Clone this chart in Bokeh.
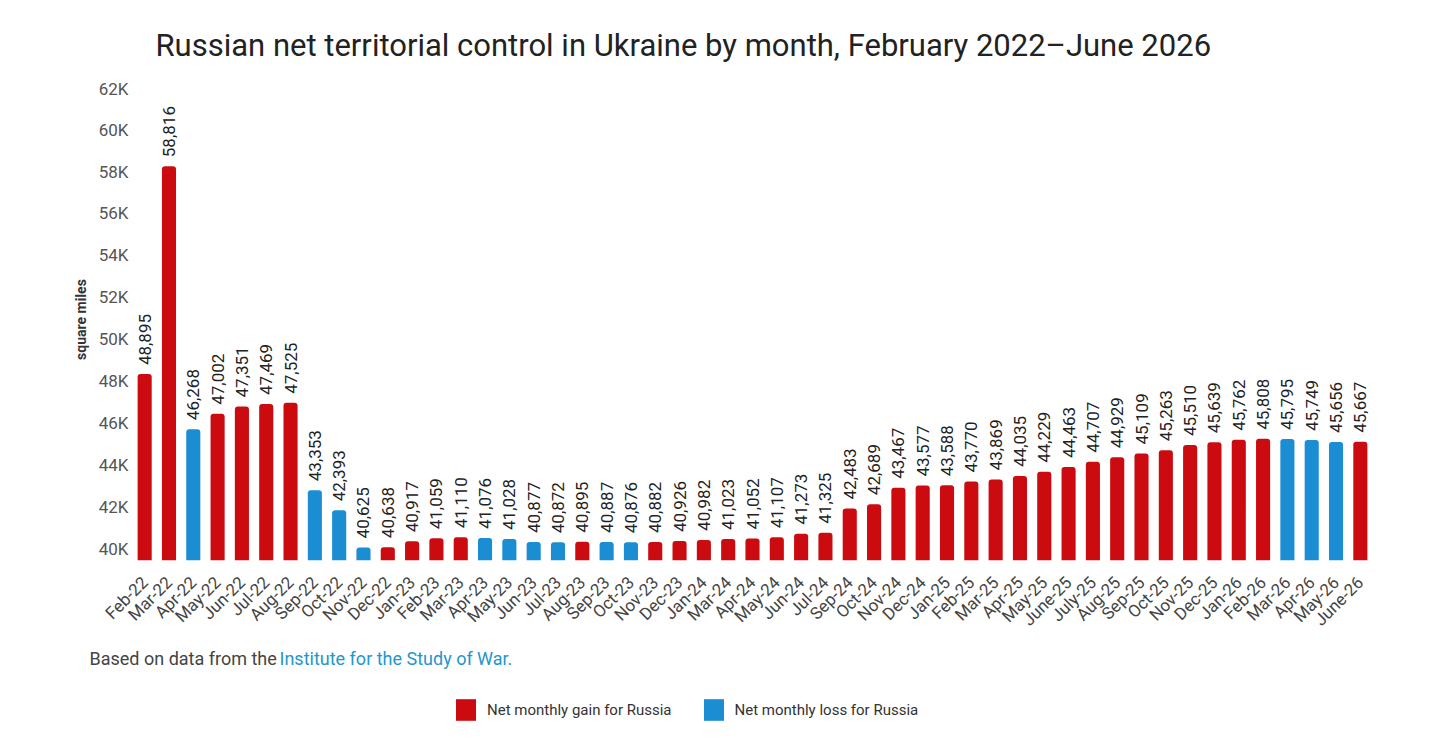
from math import pi
from bokeh.plotting import figure
from bokeh.layouts import column
from bokeh.models import (ColumnDataSource, FixedTicker, Label, Legend, LegendItem,
                          Range1d, FactorRange)
from bokeh.embed import file_html
from bokeh.resources import INLINE
from bokeh.core.properties import value

months = ["Feb-22", "Mar-22", "Apr-22", "May-22", "Jun-22", "Jul-22", "Aug-22", "Sep-22",
          "Oct-22", "Nov-22", "Dec-22", "Jan-23", "Feb-23", "Mar-23", "Apr-23", "May-23",
          "Jun-23", "Jul-23", "Aug-23", "Sep-23", "Oct-23", "Nov-23", "Dec-23", "Jan-24",
          "Mar-24", "Apr-24", "May-24", "Jun-24", "Jul-24", "Sep-24", "Oct-24", "Nov-24",
          "Dec-24", "Jan-25", "Feb-25", "Mar-25", "Apr-25", "May-25", "June-25", "July-25",
          "Aug-25", "Sep-25", "Oct-25", "Nov-25", "Dec-25", "Jan-26", "Feb-26", "Mar-26",
          "Apr-26", "May-26", "June-26"]
sq_miles = [48895, 58816, 46268, 47002, 47351, 47469, 47525, 43353,
            42393, 40625, 40638, 40917, 41059, 41110, 41076, 41028,
            40877, 40872, 40895, 40887, 40876, 40882, 40926, 40982,
            41023, 41052, 41107, 41273, 41325, 42483, 42689, 43467,
            43577, 43588, 43770, 43869, 44035, 44229, 44463, 44707,
            44929, 45109, 45263, 45510, 45639, 45762, 45808, 45795,
            45749, 45656, 45667]
y_ticks = [40000, 42000, 44000, 46000, 48000, 50000, 52000, 54000, 56000, 58000, 60000, 62000]
y_tick_labels = ["40K", "42K", "44K", "46K", "48K", "50K", "52K", "54K", "56K", "58K", "60K", "62K"]
gain_label = "Net monthly gain for Russia"
loss_label = "Net monthly loss for Russia"
title_text = "Russian net territorial control in Ukraine by month, February 2022\u2013June 2026"
source_text = "Based on data from the "
source_link = "Institute for the Study of War."

RED = "#cc0b11"
BLUE = "#1b8dd3"
FONT = "Roboto"
W = 1440
HEAD_H, MAIN_H, FOOT_H = 78, 562, 90

# gain / loss vs previous month
is_gain = [True] + [sq_miles[i] > sq_miles[i - 1] for i in range(1, len(sq_miles))]


def subset(flag):
    idx = [i for i, g in enumerate(is_gain) if g == flag]
    return ColumnDataSource(dict(
        month=[months[i] for i in idx],
        val=[sq_miles[i] for i in idx],
    ))


src_gain = subset(True)
src_loss = subset(False)
src_all = ColumnDataSource(dict(month=months, val=sq_miles,
                                lab=[f"{v:,}" for v in sq_miles]))


def blank_fig(h):
    f = figure(width=W, height=h, x_range=Range1d(0, W), y_range=Range1d(h, 0),
               output_backend="svg", toolbar_location=None,
               x_axis_location=None, y_axis_location=None,
               min_border=0, min_border_left=0, min_border_right=0,
               min_border_top=0, min_border_bottom=0)
    f.outline_line_color = None
    f.grid.visible = False
    if "frame_align" in f.properties():
        f.frame_align = False
    return f


# ---- header (title)
head = blank_fig(HEAD_H)
head.add_layout(Label(x=155, y=45, text=title_text, text_font=FONT, text_font_size="31px",
                      text_color="#222222", text_baseline="middle", text_align="left"))

# ---- main chart
p = figure(width=W, height=MAIN_H, x_range=FactorRange(*months, range_padding=0),
           y_range=Range1d(40000, 63000), output_backend="svg", toolbar_location=None,
           min_border_left=132, min_border_right=68, min_border_top=0, min_border_bottom=80)
p.x_range.factor_padding = 0
p.outline_line_color = None
p.grid.grid_line_color = None
if "frame_align" in p.properties():
    p.frame_align = False

p.vbar(x="month", top="val", bottom=40000, width=0.58, source=src_gain,
       fill_color=RED, line_color=None, border_radius=(3, 3, 0, 0))
p.vbar(x="month", top="val", bottom=40000, width=0.58, source=src_loss,
       fill_color=BLUE, line_color=None, border_radius=(3, 3, 0, 0))

p.text(x="month", y="val", text="lab", source=src_all, angle=pi / 2,
       text_align="left", text_baseline="middle", y_offset=-9,
       text_font=value(FONT), text_font_size="17px", text_color="#222222")

xa = p.xaxis[0]
xa.axis_line_color = None
xa.major_tick_line_color = None
xa.minor_tick_line_color = None
xa.major_label_orientation = pi / 4
xa.major_label_text_font = FONT
xa.major_label_text_font_size = "17px"
xa.major_label_text_color = "#444444"
xa.major_label_standoff = 13

# y axis: labels sit just above their reference lines
ya = p.yaxis[0]
label_lift = 560
ya.ticker = FixedTicker(ticks=[t + label_lift for t in y_ticks])
ya.major_label_overrides = {t + label_lift: s for t, s in zip(y_ticks, y_tick_labels)}
ya.axis_line_color = None
ya.major_tick_line_color = None
ya.minor_tick_line_color = None
ya.major_label_text_font = FONT
ya.major_label_text_font_size = "17px"
ya.major_label_text_color = "#555555"
ya.major_label_standoff = -2
ya.axis_label = "square miles"
ya.axis_label_text_font = FONT
ya.axis_label_text_font_size = "14px"
ya.axis_label_text_font_style = "bold"
ya.axis_label_text_color = "#333333"
ya.axis_label_standoff = 7

# ---- footer (source + legend)
foot = blank_fig(FOOT_H)
foot.add_layout(Label(x=89, y=18, text=source_text, text_font=FONT, text_font_size="18px",
                      text_color="#444444", text_baseline="middle", text_align="left"))
foot.add_layout(Label(x=279, y=18, text=source_link, text_font=FONT, text_font_size="18px",
                      text_color="#2596cc", text_baseline="middle", text_align="left"))
# zero-height proxy bars so the legend has swatches
g_proxy = foot.vbar(x=[0], top=[0], bottom=[0], width=0, fill_color=RED, line_color=None)
l_proxy = foot.vbar(x=[0], top=[0], bottom=[0], width=0, fill_color=BLUE, line_color=None)
legend = Legend(items=[LegendItem(label=gain_label, renderers=[g_proxy]),
                       LegendItem(label=loss_label, renderers=[l_proxy])],
                location=(453, 7), orientation="horizontal",
                glyph_width=25, glyph_height=27, label_standoff=9, spacing=29,
                padding=0, margin=0, border_line_color=None, background_fill_alpha=0,
                label_text_font=FONT, label_text_font_size="15px", label_text_color="#333333")
foot.add_layout(legend, "center")

layout = column(head, p, foot, spacing=0)
open("out.html", "w").write(file_html(layout, INLINE))
